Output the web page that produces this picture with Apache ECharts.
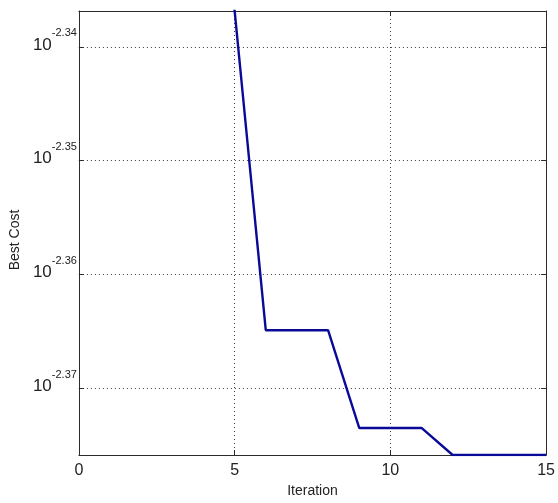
<!DOCTYPE html>
<html>
<head>
<meta charset="utf-8">
<title>Best Cost</title>
<script src="https://cdn.jsdelivr.net/npm/echarts@6/dist/echarts.min.js"></script>
<style>
  html, body { margin: 0; padding: 0; background: #ffffff; }
  #chart { width: 558px; height: 503px; }
</style>
</head>
<body>
<div id="chart"></div>
<script>
// Best cost per iteration (log10 scale on the y axis)
const iterations = [1, 2, 3, 4, 5, 6, 7, 8, 9, 10, 11, 12, 13, 14, 15];
const bestCost = [0.005248, 0.0050119, 0.004898, 0.0047315, 0.0046047,
                  0.0043161, 0.0043161, 0.0043161, 0.0042315, 0.0042315,
                  0.0042315, 0.0042084, 0.0042084, 0.0042084, 0.0042084];
// exponents of the labelled y ticks (10^e)
const yTickExponents = [-2.34, -2.35, -2.36, -2.37];
const xTicks = [0, 5, 10, 15];

// visible y range
const yMin = 0.0042084;
const yMax = Math.pow(10, -2.33684);

const yTickValues = yTickExponents.map(e => Math.pow(10, e));
const seriesData = iterations.map((it, i) => [it, bestCost[i]]);

const font = 'Liberation Sans, Arial, sans-serif';
const boxColor = '#2b2b2b';
const gridLine = { show: true, lineStyle: { color: '#3a3a3a', width: 1, type: [1, 3] } };

function yLabel(v) {
  const e = Math.round(Math.log10(v) * 100) / 100;
  return '{b|10}{s|' + e.toFixed(2) + '}';
}

const chart = echarts.init(document.getElementById('chart'), null, { renderer: 'canvas' });
chart.setOption({
  animation: false,
  backgroundColor: '#ffffff',
  grid: { left: 75, right: 8, top: 11, bottom: 47, containLabel: false },
  xAxis: [
    {
      type: 'value', min: 0, max: 15, interval: 5, position: 'bottom',
      name: 'Iteration', nameLocation: 'middle', nameGap: 29,
      nameTextStyle: { fontFamily: font, fontSize: 14, color: '#222' },
      axisLine: { show: true, onZero: false, lineStyle: { color: boxColor, width: 1 } },
      axisTick: { show: true, inside: true, length: 5, lineStyle: { color: boxColor } },
      axisLabel: { show: true, margin: 8, fontFamily: font, fontSize: 16, color: '#222',
                   customValues: xTicks },
      splitLine: gridLine
    },
    {
      type: 'value', min: 0, max: 15, interval: 5, position: 'top',
      axisLine: { show: true, onZero: false, lineStyle: { color: boxColor, width: 1 } },
      axisTick: { show: true, inside: true, length: 5, lineStyle: { color: boxColor } },
      axisLabel: { show: false },
      splitLine: { show: false }
    }
  ],
  yAxis: [
    {
      type: 'log', logBase: 10, min: yMin, max: yMax, position: 'left',
      name: 'Best Cost', nameLocation: 'middle', nameGap: 51, nameRotate: 90,
      nameTextStyle: { fontFamily: font, fontSize: 14, color: '#222', padding: [0, 14, 0, 0] },
      axisLine: { show: true, onZero: false, lineStyle: { color: boxColor, width: 1 } },
      axisTick: { show: true, inside: true, length: 5, lineStyle: { color: boxColor },
                  customValues: yTickValues },
      axisLabel: {
        show: true, margin: 2, customValues: yTickValues, formatter: yLabel,
        rich: {
          b: { fontFamily: font, fontSize: 17, color: '#222', padding: [0, 0, 4, 0] },
          s: { fontFamily: font, fontSize: 11, color: '#222', padding: [0, 0, 27, 0] }
        }
      },
      splitLine: gridLine
    },
    {
      type: 'log', logBase: 10, min: yMin, max: yMax, position: 'right',
      axisLine: { show: true, onZero: false, lineStyle: { color: boxColor, width: 1 } },
      axisTick: { show: true, inside: true, length: 5, lineStyle: { color: boxColor },
                  customValues: yTickValues },
      axisLabel: { show: false },
      splitLine: { show: false }
    }
  ],
  series: [
    {
      type: 'line', xAxisIndex: 0, yAxisIndex: 0,
      data: seriesData, showSymbol: false, clip: true,
      lineStyle: { color: '#0a0a98', width: 2.4 }
    }
  ]
});
</script>
</body>
</html>
